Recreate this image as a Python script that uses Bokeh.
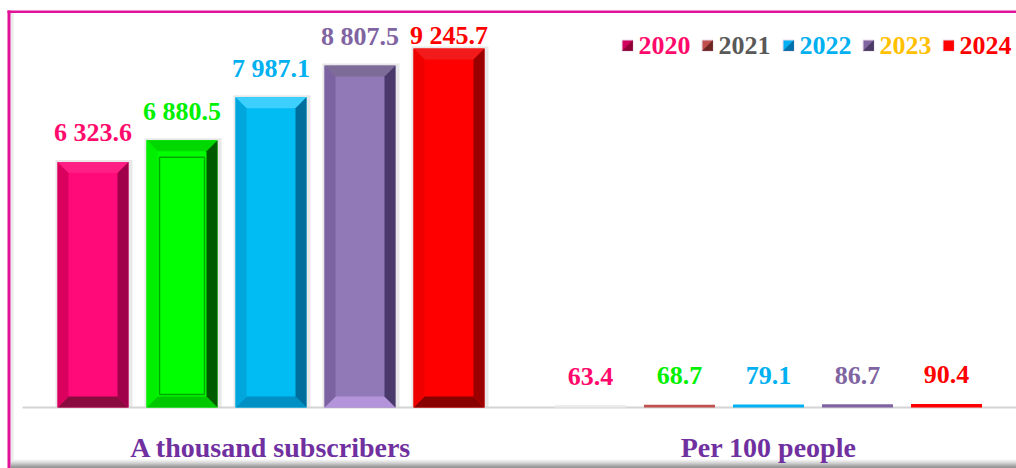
from bokeh.plotting import figure
from bokeh.models import ColumnDataSource, Range1d
from bokeh.core.properties import value
from bokeh.embed import file_html
from bokeh.resources import INLINE

# ---------------- data ----------------
years = ["2020", "2021", "2022", "2023", "2024"]
categories = ["A thousand subscribers", "Per 100 people"]
subscribers = [6323.6, 6880.5, 7987.1, 8807.5, 9245.7]
per_100 = [63.4, 68.7, 79.1, 86.7, 90.4]

# ---------------- styles ----------------
label_colors = ["#FF0A6C", "#00F000", "#00B0F0", "#8064A2", "#FF0000"]
legend_text_colors = ["#FF0A6C", "#595959", "#00B0F0", "#FFC000", "#FF0000"]
legend_marker_colors = [("#D0005E", "#80002E"), ("#C0504D", "#5A1A18"),
                        ("#00B0F0", "#00609A"), ("#8064A2", "#3E2E58"),
                        ("#FF0000", "#FF0000")]
# face, top, left, right, bottom for the beveled bars of the first group
bevel_styles = [
    ("#FF0A78", "#FF1F84", "#DA005E", "#A0004A", "#8A0C3E"),
    ("#00FF00", "#00D800", "#00EE00", "#005A00", "#00C800"),
    ("#00BCF2", "#3DD0FF", "#00A6DC", "#006E9C", "#0090C4"),
    ("#9079B6", "#7E6C98", "#7A63A0", "#4A3A6C", "#B394DA"),
    ("#FF0000", "#F21A1A", "#EE0000", "#9A0000", "#880000"),
]
flat_colors_g2 = ["#ECECEC", "#C0504D", "#00B0F0", "#8064A2", "#FF0000"]
cat_color = "#7030A0"
FONT = value("Liberation Serif")

# ---------------- layout (page pixel geometry) ----------------
W, H = 1016, 468
OFF = 0
BASE = 407          # page y of the value axis baseline
U = 25.75           # value units per pixel


def fx(px):
    return px - OFF


def fy(py):
    return (BASE - py) * U


group_centers = [fx(270.5), fx(768.0)]
spacing = 89.0
bar_w = 71.0

p = figure(width=W, height=H, output_backend="svg", toolbar_location=None,
           x_range=Range1d(0, W), y_range=Range1d(fy(OFF + H), fy(OFF)),
           min_border=0, outline_line_color=None,
           background_fill_color="white", border_fill_color="white")
p.axis.visible = False
p.grid.visible = False

# frame decorations: bottom shadow, magenta borders, baseline
shades = ["#F4F4F4", "#E6E6E6", "#D6D6D6", "#C6C6C6", "#B4B4B4", "#A0A0A0", "#8C8C8C", "#7A7A7A", "#707070"]
for i, c in enumerate(shades):
    p.quad(left=fx(10), right=fx(1016), top=fy(459 + i), bottom=fy(460 + i),
           fill_color=c, line_color=None)
p.quad(left=fx(10), right=fx(13), top=fy(12), bottom=fy(460), fill_color="#EBEBEB", line_color=None)
p.quad(left=fx(7), right=fx(10), top=fy(10), bottom=fy(468), fill_color="#E0129A", line_color=None)
p.quad(left=fx(7), right=fx(1016), top=fy(10), bottom=fy(12.5), fill_color="#E0129A", line_color=None)
p.segment(x0=fx(22), y0=0, x1=fx(1016), y1=0, line_color="#D4D4D4", line_width=2)

# bars
bx = 11.0
by = 11.0 * U
shadow = dict(left=[], right=[], top=[], bottom=[])
polys_x, polys_y, polys_c = [], [], []
flat = dict(left=[], right=[], top=[], bottom=[], color=[])
lab = dict(x=[], y=[], text=[], color=[])
inner = dict(left=[], right=[], top=[], bottom=[])

for g, vals in enumerate([subscribers, per_100]):
    for i, v in enumerate(vals):
        xc = group_centers[g] + (i - 2) * spacing
        x0, x1 = xc - bar_w / 2, xc + bar_w / 2
        y0, y1 = 0.0, v
        lab["x"].append(xc)
        lab["y"].append(min(v + 29 * U, fy(35)))
        lab["text"].append(f"{v:,.1f}".replace(",", " "))
        lab["color"].append(label_colors[i])
        if g == 0:
            shadow["left"].append(x0 - 2)
            shadow["right"].append(x1 + 4)
            shadow["top"].append(y1 + 2 * U)
            shadow["bottom"].append(y0)
            face, top, left, right, bottom = bevel_styles[i]
            polys_x += [[x0, x1, x1, x0],
                        [x0, x1, x1 - bx, x0 + bx],
                        [x0, x1, x1 - bx, x0 + bx],
                        [x0, x0, x0 + bx, x0 + bx],
                        [x1, x1, x1 - bx, x1 - bx]]
            polys_y += [[y0, y0, y1, y1],
                        [y1, y1, y1 - by, y1 - by],
                        [y0, y0, y0 + by, y0 + by],
                        [y0, y1, y1 - by, y0 + by],
                        [y0, y1, y1 - by, y0 + by]]
            polys_c += [face, top, bottom, left, right]
            if i == 1:
                inner["left"].append(x0 + 13)
                inner["right"].append(x1 - 13)
                inner["top"].append(y1 - 17 * U)
                inner["bottom"].append(y0 + 13 * U)
        else:
            flat["left"].append(x0)
            flat["right"].append(x1)
            flat["top"].append(y1)
            flat["bottom"].append(y0)
            flat["color"].append(flat_colors_g2[i])

p.quad(source=ColumnDataSource(shadow), left="left", right="right", top="top", bottom="bottom",
       fill_color="#D8D8D8", fill_alpha=0.6, line_color=None)
p.patches(xs=polys_x, ys=polys_y, fill_color=polys_c, line_color=None)
p.quad(source=ColumnDataSource(inner), left="left", right="right", top="top", bottom="bottom",
       fill_color=None, line_color="#00A800", line_width=1.5)
p.quad(source=ColumnDataSource(flat), left="left", right="right", top="top", bottom="bottom",
       fill_color="color", line_color=None)

# value labels
p.text(source=ColumnDataSource(lab), x="x", y="y", text="text", text_color="color",
       text_font=FONT, text_font_style="bold", text_font_size="26px",
       text_align="center", text_baseline="middle")

# category labels
p.text(x=group_centers, y=[fy(447)] * 2, text=categories, text_color=cat_color,
       text_font=FONT, text_font_style="bold", text_font_size="28px",
       text_align="center", text_baseline="middle")

# legend
leg_marker_x = [fx(627), fx(707), fx(788), fx(868), fx(948)]
ly = fy(45)
ms = 11.0
for i, yr in enumerate(years):
    mx = leg_marker_x[i]
    c1, c2 = legend_marker_colors[i]
    p.quad(left=mx - ms / 2, right=mx + ms / 2, top=ly + ms / 2 * U, bottom=ly - ms / 2 * U,
           fill_color=c1, line_color="#E8D8E8", line_width=1)
    p.patch(x=[mx + ms / 2, mx + ms / 2, mx - ms / 2], y=[ly + ms / 2 * U, ly - ms / 2 * U, ly - ms / 2 * U],
            fill_color=c2, fill_alpha=0.8, line_color=None)
p.text(x=[m + 11 for m in leg_marker_x], y=[ly] * 5, text=years, text_color=legend_text_colors,
       text_font=FONT, text_font_style="bold", text_font_size="26px",
       text_align="left", text_baseline="middle")

open("out.html", "w").write(file_html(p, INLINE))
